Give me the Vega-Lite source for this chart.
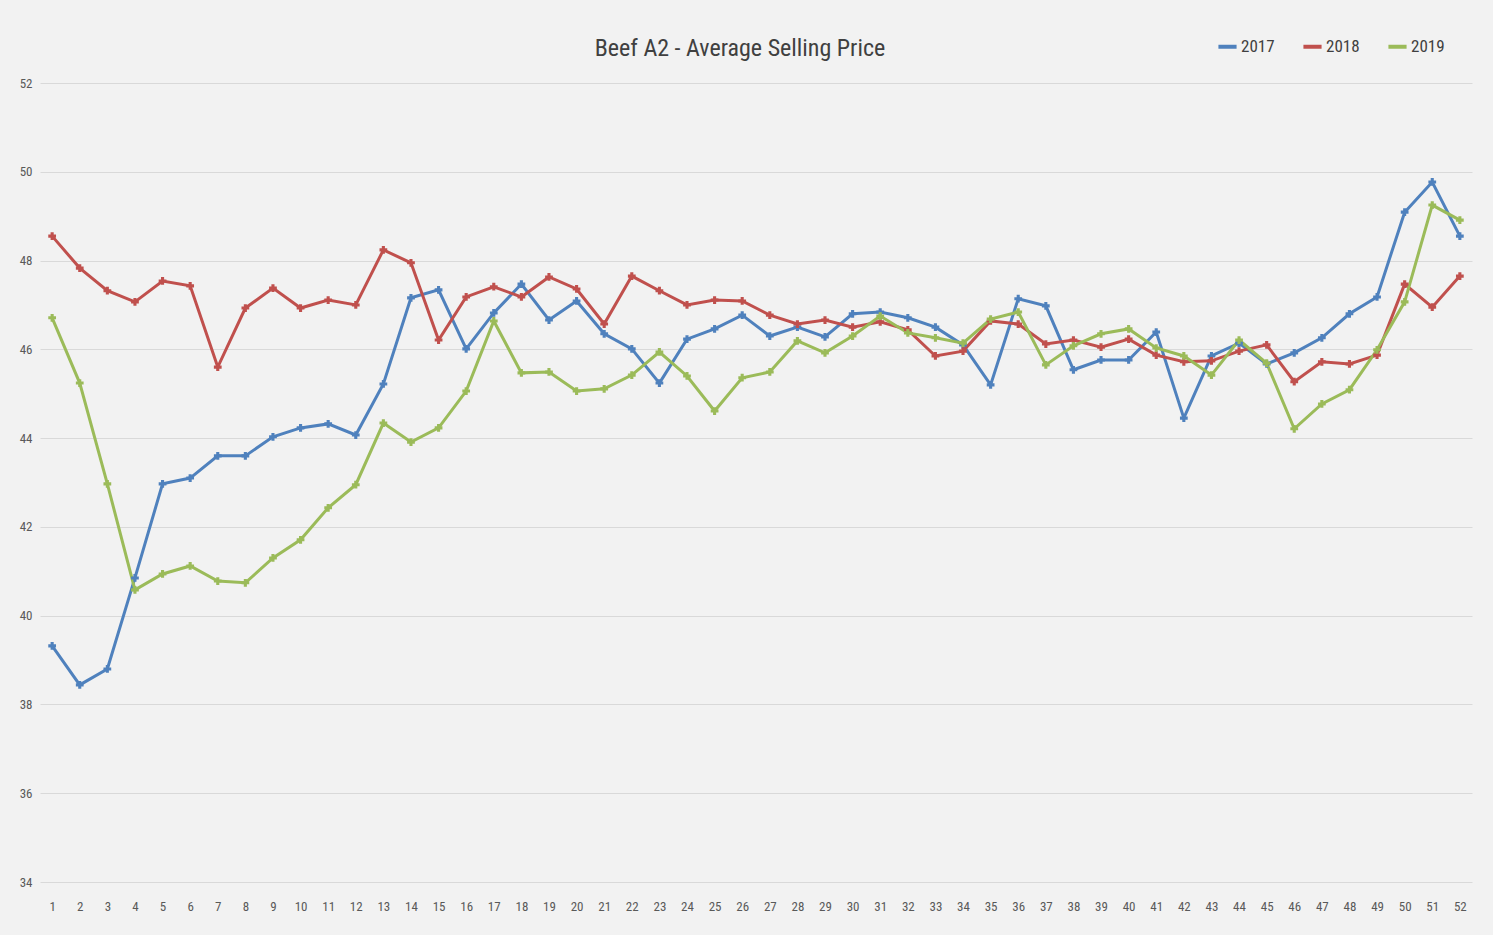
{
  "$schema": "https://vega.github.io/schema/vega-lite/v6.json",
  "width": 1432,
  "height": 799,
  "autosize": {"type": "none"},
  "padding": {"left": 40, "top": 83, "right": 21, "bottom": 53},
  "background": "#f2f2f2",
  "title": {
    "text": "Beef A2 - Average Selling Price",
    "font": "Liberation Sans Narrow, Roboto Condensed, sans-serif",
    "fontSize": 24,
    "fontWeight": "normal",
    "color": "#404040",
    "anchor": "middle",
    "baseline": "alphabetic",
    "dx": -16,
    "offset": 0,
    "dy": 45
  },
  "data": {
    "values": [
      {"week": 1, "year": "2017", "price": 39.32}, {"week": 2, "year": "2017", "price": 38.44}, {"week": 3, "year": "2017", "price": 38.80}, {"week": 4, "year": "2017", "price": 40.85},
      {"week": 5, "year": "2017", "price": 42.97}, {"week": 6, "year": "2017", "price": 43.10}, {"week": 7, "year": "2017", "price": 43.60}, {"week": 8, "year": "2017", "price": 43.60},
      {"week": 9, "year": "2017", "price": 44.03}, {"week": 10, "year": "2017", "price": 44.23}, {"week": 11, "year": "2017", "price": 44.32}, {"week": 12, "year": "2017", "price": 44.07},
      {"week": 13, "year": "2017", "price": 45.22}, {"week": 14, "year": "2017", "price": 47.16}, {"week": 15, "year": "2017", "price": 47.34}, {"week": 16, "year": "2017", "price": 46.01},
      {"week": 17, "year": "2017", "price": 46.82}, {"week": 18, "year": "2017", "price": 47.47}, {"week": 19, "year": "2017", "price": 46.66}, {"week": 20, "year": "2017", "price": 47.09},
      {"week": 21, "year": "2017", "price": 46.35}, {"week": 22, "year": "2017", "price": 46.01}, {"week": 23, "year": "2017", "price": 45.24}, {"week": 24, "year": "2017", "price": 46.23},
      {"week": 25, "year": "2017", "price": 46.46}, {"week": 26, "year": "2017", "price": 46.77}, {"week": 27, "year": "2017", "price": 46.30}, {"week": 28, "year": "2017", "price": 46.50},
      {"week": 29, "year": "2017", "price": 46.28}, {"week": 30, "year": "2017", "price": 46.80}, {"week": 31, "year": "2017", "price": 46.84}, {"week": 32, "year": "2017", "price": 46.71},
      {"week": 33, "year": "2017", "price": 46.50}, {"week": 34, "year": "2017", "price": 46.10}, {"week": 35, "year": "2017", "price": 45.20}, {"week": 36, "year": "2017", "price": 47.14},
      {"week": 37, "year": "2017", "price": 46.98}, {"week": 38, "year": "2017", "price": 45.54}, {"week": 39, "year": "2017", "price": 45.76}, {"week": 40, "year": "2017", "price": 45.76},
      {"week": 41, "year": "2017", "price": 46.39}, {"week": 42, "year": "2017", "price": 44.45}, {"week": 43, "year": "2017", "price": 45.85}, {"week": 44, "year": "2017", "price": 46.14},
      {"week": 45, "year": "2017", "price": 45.67}, {"week": 46, "year": "2017", "price": 45.92}, {"week": 47, "year": "2017", "price": 46.26}, {"week": 48, "year": "2017", "price": 46.80},
      {"week": 49, "year": "2017", "price": 47.18}, {"week": 50, "year": "2017", "price": 49.09}, {"week": 51, "year": "2017", "price": 49.77}, {"week": 52, "year": "2017", "price": 48.55},

      {"week": 1, "year": "2018", "price": 48.55}, {"week": 2, "year": "2018", "price": 47.83}, {"week": 3, "year": "2018", "price": 47.32}, {"week": 4, "year": "2018", "price": 47.07},
      {"week": 5, "year": "2018", "price": 47.54}, {"week": 6, "year": "2018", "price": 47.43}, {"week": 7, "year": "2018", "price": 45.60}, {"week": 8, "year": "2018", "price": 46.93},
      {"week": 9, "year": "2018", "price": 47.38}, {"week": 10, "year": "2018", "price": 46.93}, {"week": 11, "year": "2018", "price": 47.11}, {"week": 12, "year": "2018", "price": 47.00},
      {"week": 13, "year": "2018", "price": 48.24}, {"week": 14, "year": "2018", "price": 47.95}, {"week": 15, "year": "2018", "price": 46.21}, {"week": 16, "year": "2018", "price": 47.18},
      {"week": 17, "year": "2018", "price": 47.41}, {"week": 18, "year": "2018", "price": 47.18}, {"week": 19, "year": "2018", "price": 47.63}, {"week": 20, "year": "2018", "price": 47.36},
      {"week": 21, "year": "2018", "price": 46.57}, {"week": 22, "year": "2018", "price": 47.65}, {"week": 23, "year": "2018", "price": 47.32}, {"week": 24, "year": "2018", "price": 47.00},
      {"week": 25, "year": "2018", "price": 47.11}, {"week": 26, "year": "2018", "price": 47.09}, {"week": 27, "year": "2018", "price": 46.77}, {"week": 28, "year": "2018", "price": 46.57},
      {"week": 29, "year": "2018", "price": 46.66}, {"week": 30, "year": "2018", "price": 46.50}, {"week": 31, "year": "2018", "price": 46.62}, {"week": 32, "year": "2018", "price": 46.44},
      {"week": 33, "year": "2018", "price": 45.85}, {"week": 34, "year": "2018", "price": 45.96}, {"week": 35, "year": "2018", "price": 46.64}, {"week": 36, "year": "2018", "price": 46.57},
      {"week": 37, "year": "2018", "price": 46.12}, {"week": 38, "year": "2018", "price": 46.21}, {"week": 39, "year": "2018", "price": 46.05}, {"week": 40, "year": "2018", "price": 46.23},
      {"week": 41, "year": "2018", "price": 45.87}, {"week": 42, "year": "2018", "price": 45.72}, {"week": 43, "year": "2018", "price": 45.74}, {"week": 44, "year": "2018", "price": 45.96},
      {"week": 45, "year": "2018", "price": 46.10}, {"week": 46, "year": "2018", "price": 45.27}, {"week": 47, "year": "2018", "price": 45.72}, {"week": 48, "year": "2018", "price": 45.67},
      {"week": 49, "year": "2018", "price": 45.87}, {"week": 50, "year": "2018", "price": 47.47}, {"week": 51, "year": "2018", "price": 46.95}, {"week": 52, "year": "2018", "price": 47.65},

      {"week": 1, "year": "2019", "price": 46.71}, {"week": 2, "year": "2019", "price": 45.24}, {"week": 3, "year": "2019", "price": 42.97}, {"week": 4, "year": "2019", "price": 40.58},
      {"week": 5, "year": "2019", "price": 40.94}, {"week": 6, "year": "2019", "price": 41.12}, {"week": 7, "year": "2019", "price": 40.78}, {"week": 8, "year": "2019", "price": 40.74},
      {"week": 9, "year": "2019", "price": 41.30}, {"week": 10, "year": "2019", "price": 41.71}, {"week": 11, "year": "2019", "price": 42.43}, {"week": 12, "year": "2019", "price": 42.95},
      {"week": 13, "year": "2019", "price": 44.34}, {"week": 14, "year": "2019", "price": 43.91}, {"week": 15, "year": "2019", "price": 44.23}, {"week": 16, "year": "2019", "price": 45.06},
      {"week": 17, "year": "2019", "price": 46.64}, {"week": 18, "year": "2019", "price": 45.47}, {"week": 19, "year": "2019", "price": 45.49}, {"week": 20, "year": "2019", "price": 45.06},
      {"week": 21, "year": "2019", "price": 45.11}, {"week": 22, "year": "2019", "price": 45.42}, {"week": 23, "year": "2019", "price": 45.94}, {"week": 24, "year": "2019", "price": 45.40},
      {"week": 25, "year": "2019", "price": 44.61}, {"week": 26, "year": "2019", "price": 45.36}, {"week": 27, "year": "2019", "price": 45.49}, {"week": 28, "year": "2019", "price": 46.19},
      {"week": 29, "year": "2019", "price": 45.92}, {"week": 30, "year": "2019", "price": 46.30}, {"week": 31, "year": "2019", "price": 46.75}, {"week": 32, "year": "2019", "price": 46.37},
      {"week": 33, "year": "2019", "price": 46.26}, {"week": 34, "year": "2019", "price": 46.14}, {"week": 35, "year": "2019", "price": 46.68}, {"week": 36, "year": "2019", "price": 46.84},
      {"week": 37, "year": "2019", "price": 45.65}, {"week": 38, "year": "2019", "price": 46.08}, {"week": 39, "year": "2019", "price": 46.35}, {"week": 40, "year": "2019", "price": 46.46},
      {"week": 41, "year": "2019", "price": 46.03}, {"week": 42, "year": "2019", "price": 45.85}, {"week": 43, "year": "2019", "price": 45.42}, {"week": 44, "year": "2019", "price": 46.21},
      {"week": 45, "year": "2019", "price": 45.69}, {"week": 46, "year": "2019", "price": 44.21}, {"week": 47, "year": "2019", "price": 44.77}, {"week": 48, "year": "2019", "price": 45.09},
      {"week": 49, "year": "2019", "price": 45.99}, {"week": 50, "year": "2019", "price": 47.07}, {"week": 51, "year": "2019", "price": 49.25}, {"week": 52, "year": "2019", "price": 48.91}
    ]
  },
  "encoding": {
    "x": {
      "field": "week",
      "type": "ordinal",
      "scale": {"type": "point", "padding": 0.44},
      "axis": {
        "title": null,
        "labelAngle": 0,
        "ticks": false,
        "domain": false,
        "grid": false,
        "labelPadding": 18,
        "labelFont": "Liberation Sans Narrow, Roboto Condensed, sans-serif",
        "labelFontSize": 13,
        "labelColor": "#595959"
      }
    },
    "y": {
      "field": "price",
      "type": "quantitative",
      "scale": {"domain": [34, 52], "nice": false, "zero": false},
      "axis": {
        "title": null,
        "values": [34, 36, 38, 40, 42, 44, 46, 48, 50, 52],
        "ticks": false,
        "domain": false,
        "grid": true,
        "gridColor": "#d9d9d9",
        "gridWidth": 1.2,
        "labelPadding": 8,
        "labelFont": "Liberation Sans Narrow, Roboto Condensed, sans-serif",
        "labelFontSize": 13,
        "labelColor": "#595959"
      }
    },
    "color": {
      "field": "year",
      "type": "nominal",
      "scale": {"domain": ["2017", "2018", "2019"], "range": ["#4F81BD", "#C0504D", "#9BBB59"]},
      "legend": {
        "title": null,
        "orient": "none",
        "legendX": 1176,
        "legendY": -48,
        "direction": "horizontal",
        "symbolType": "stroke",
        "symbolStrokeWidth": 4,
        "symbolSize": 330,
        "columnPadding": 20,
        "labelFont": "Liberation Sans Narrow, Roboto Condensed, sans-serif",
        "labelFontSize": 17,
        "labelColor": "#404040",
        "labelOffset": 2
      }
    }
  },
  "layer": [
    {"mark": {"type": "line", "strokeWidth": 3}},
    {"mark": {"type": "point", "shape": "cross", "filled": true, "size": 60, "opacity": 1}}
  ],
  "config": {
    "view": {"stroke": null}
  }
}
